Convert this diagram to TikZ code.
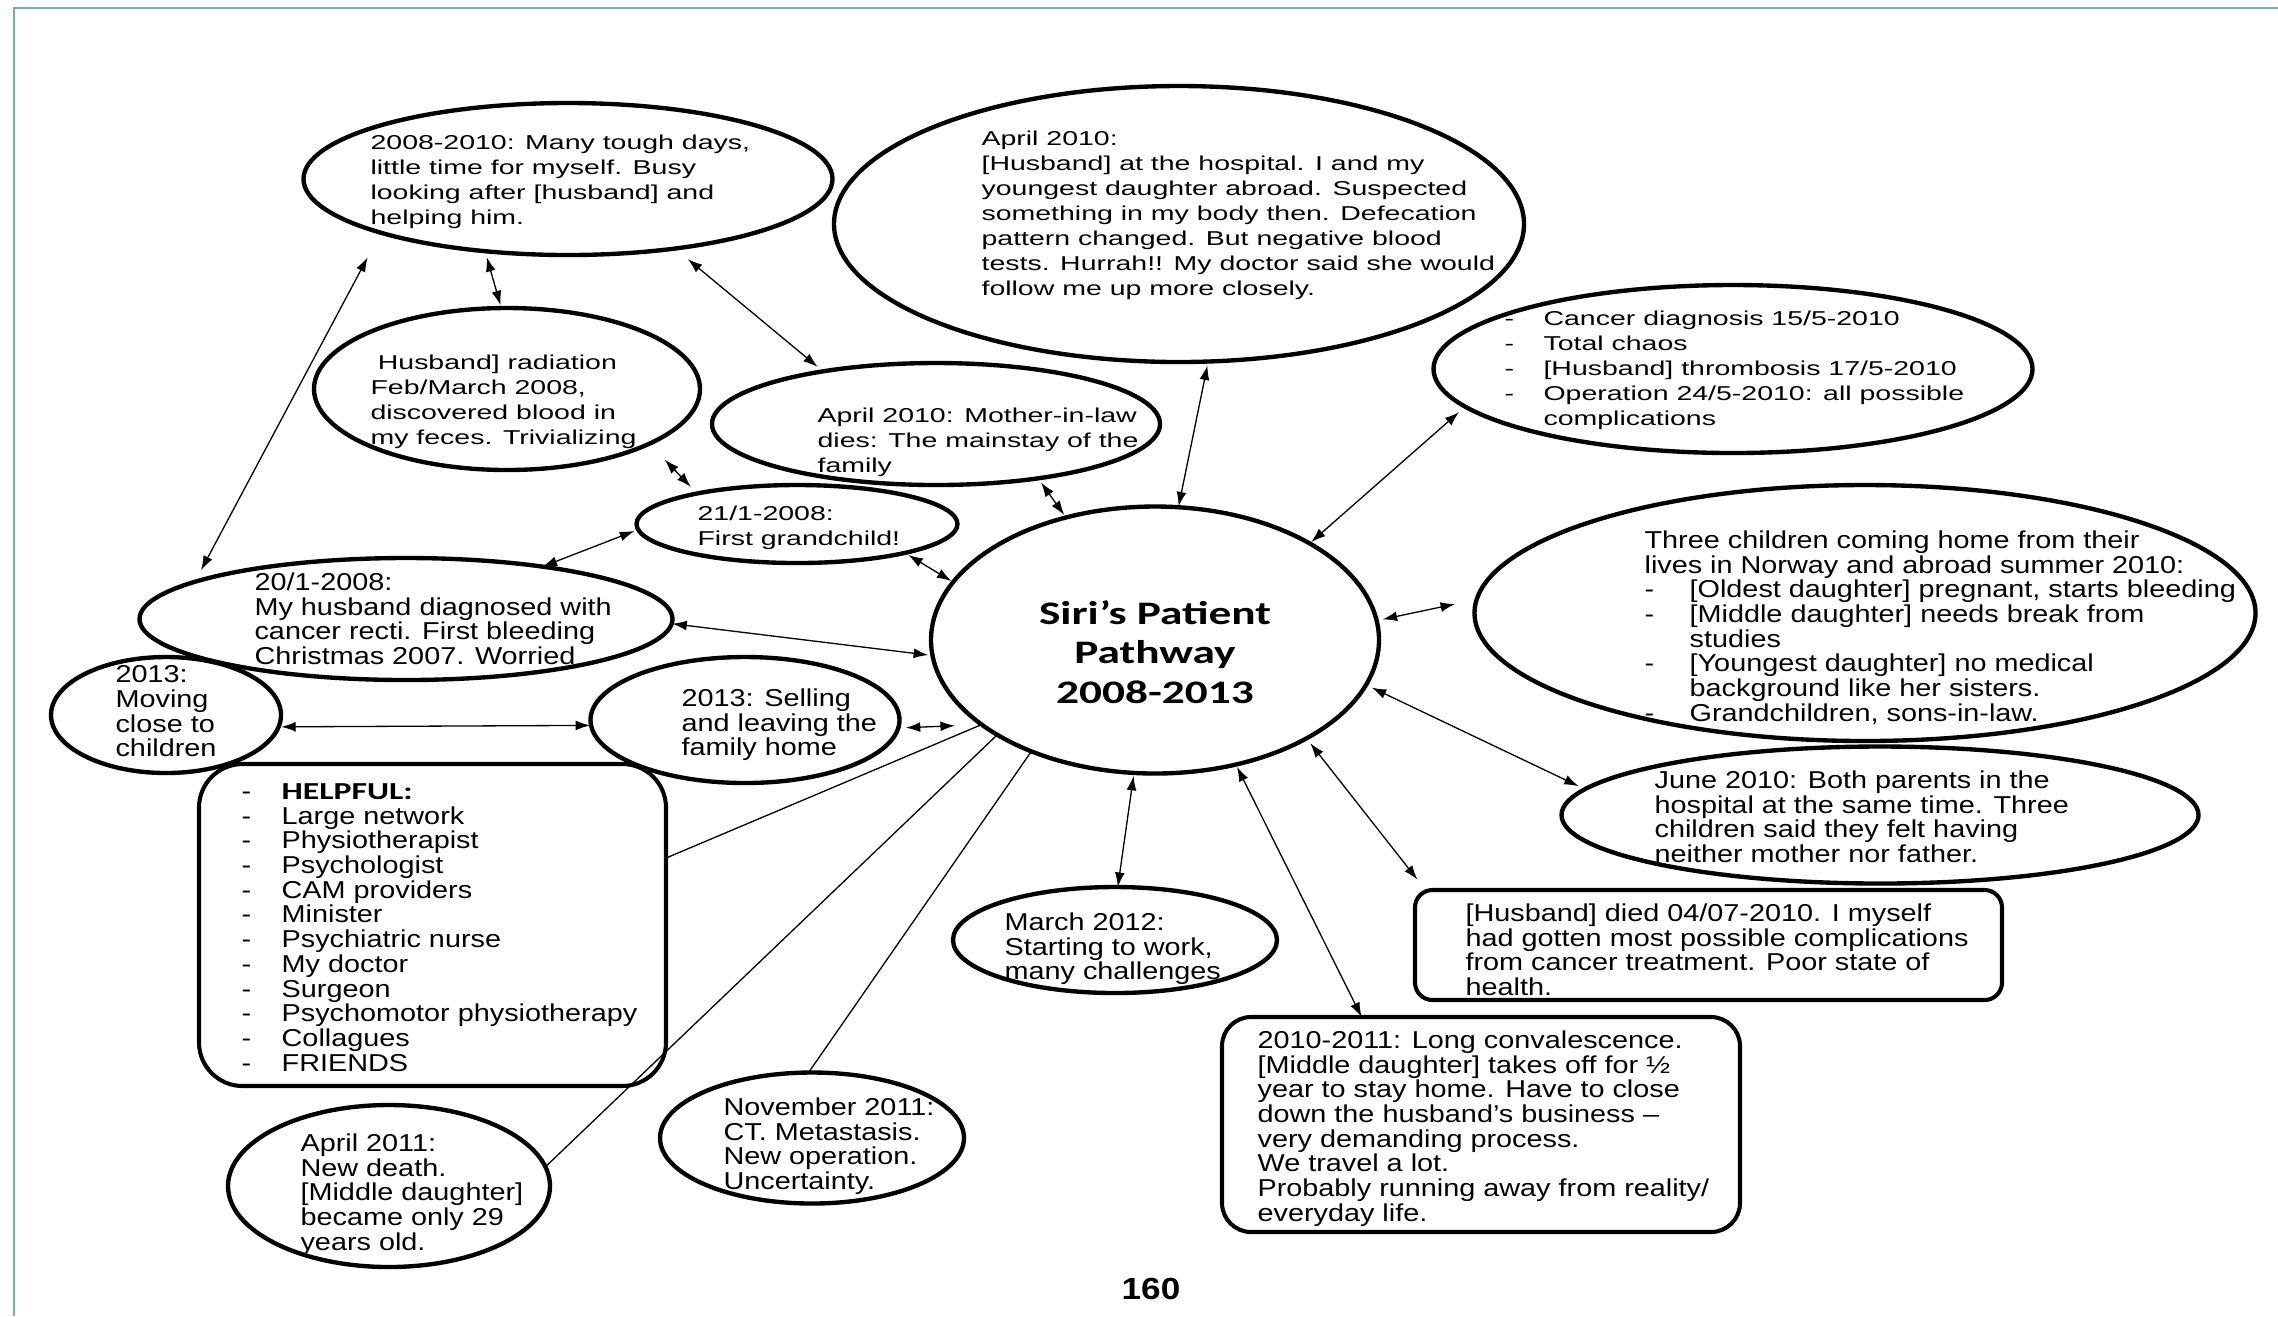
\documentclass[tikz,border=0pt]{standalone}
\usepackage{fontspec}
\setmainfont{Liberation Sans}
\newfontfamily\widefont[FakeStretch=1.42]{Liberation Sans}
\newfontfamily\narrowfont[FakeStretch=1.18]{Liberation Sans}
\newfontfamily\titlefont[FakeStretch=1.38]{Carlito}
\newfontfamily\pagefont[FakeStretch=1.15]{Liberation Sans}
\usetikzlibrary{shapes.geometric,arrows.meta}
\newcommand{\dsh}[1]{\makebox[#1][l]{-}}
\definecolor{framecol}{RGB}{120,175,175}
\begin{document}
\begin{tikzpicture}[x=0.344pt,y=-0.344pt,
  sz/.style 2 args={minimum width=#1*0.344pt,minimum height=#2*0.344pt},
  ell/.style={draw,ellipse,line width=1.5pt,inner sep=0pt,outer sep=0pt},
  rbox/.style={draw,rectangle,line width=1.4pt,inner sep=0pt,outer sep=0pt},
  wtext/.style={anchor=north west,inner sep=0pt,align=left,font=\widefont\fontsize{6.9pt}{8.6pt}\selectfont},
  ntext/.style={anchor=north west,inner sep=0pt,align=left,font=\narrowfont\fontsize{8.4pt}{8.5pt}\selectfont},
  arr/.style={{Latex[length=5pt,width=3.4pt]}-{Latex[length=5pt,width=3.4pt]},line width=0.45pt},
  ln/.style={line width=0.45pt}]
\useasboundingbox (0,0) rectangle (2278,1316);
\fill[white] (0,0) rectangle (2278,1316);
\draw[framecol,line width=1pt] (14,1316) -- (14,8) -- (2278,8);

% shapes
\node[ell,sz={529}{152}] (e1) at (568,179) {};
\node[ell,sz={386}{162}] (erad) at (507,389) {};
\node[ell,sz={690}{276}] (eapr) at (1179,224) {};
\node[ell,sz={448}{122}] (emil) at (936,424) {};
\node[ell,sz={321}{78}] (egrand) at (797,524) {};
\node[ell,sz={448}{267}] (main) at (1155,640) {};
\node[ell,sz={599}{168}] (ecancer) at (1733,369) {};
\node[ell,sz={781}{256}] (ethree) at (1865,613) {};
\node[ell,sz={637}{137}] (ejune) at (1880,815) {};
\node[rbox,rounded corners=6pt,sz={587}{110}] (hdied) at (1708.5,945) {};
\node[rbox,rounded corners=10pt,sz={518}{215}] (conv) at (1481,1124.5) {};
\node[ell,sz={324}{106}] (emarch) at (1115,940) {};
\node[ell,sz={533}{122}] (e2001) at (406,619) {};
\node[ell,sz={230}{116}] (emoving) at (166,715) {};
\node[ell,sz={309}{126}] (esell) at (745,720) {};
\node[rbox,rounded corners=15pt,sz={467}{322}] (helpful) at (432.5,925) {};
\node[ell,sz={322}{162}] (eapr11) at (389,1186) {};
\node[ell,sz={304}{131}] (enov) at (812,1138) {};

% texts
\node[wtext] (te1) at (370,134) {2008-2010: Many tough days,\\little time for myself. Busy\\looking after [husband] and\\helping him.};
\node[wtext] (terad) at (370,354) {\hspace*{2.5pt}Husband] radiation\\Feb/March 2008,\\discovered blood in\\my feces. Trivializing};
\node[wtext] (teapr) at (981,130) {April 2010:\\{}[Husband] at the hospital. I and my\\youngest daughter abroad. Suspected\\something in my body then. Defecation\\pattern changed. But negative blood\\tests. Hurrah!! My doctor said she would\\follow me up more closely.};
\node[wtext] (temil) at (817,407) {April 2010: Mother-in-law\\dies: The mainstay of the\\family};
\node[wtext] (tegrand) at (697,505) {21/1-2008:\\First grandchild!};
\node[wtext] (tecancer) at (1504,310) {\dsh{13.4pt}Cancer diagnosis 15/5-2010\\\dsh{13.4pt}Total chaos\\\dsh{13.4pt}[Husband] thrombosis 17/5-2010\\\dsh{13.4pt}Operation 24/5-2010: all possible\\\hspace*{13.4pt}complications};
\node[align=center,inner sep=0pt,font=\titlefont\bfseries\fontsize{11.3pt}{13.6pt}\selectfont] (title) at (1155,652) {Siri’s Patient\\Pathway\\2008-2013};
\node[ntext] (tethree) at (1644,530) {Three children coming home from their\\lives in Norway and abroad summer 2010:\\\dsh{15.5pt}[Oldest daughter] pregnant, starts bleeding\\\dsh{15.5pt}[Middle daughter] needs break from\\\hspace*{15.5pt}studies\\\dsh{15.5pt}[Youngest daughter] no medical\\\hspace*{15.5pt}background like her sisters.\\\dsh{15.5pt}Grandchildren, sons-in-law.};
\node[ntext] (tjune) at (1654,770) {June 2010: Both parents in the\\hospital at the same time. Three\\children said they felt having\\neither mother nor father.};
\node[ntext] (thdied) at (1465,903) {[Husband] died 04/07-2010. I myself\\had gotten most possible complications\\from cancer treatment. Poor state of\\health.};
\node[ntext] (tconv) at (1257,1030) {2010-2011: Long convalescence.\\{}[Middle daughter] takes off for ½\\year to stay home. Have to close\\down the husband’s business –\\very demanding process.\\We travel a lot.\\Probably running away from reality/\\everyday life.};
\node[ntext] (tmarch) at (1004,912) {March 2012:\\Starting to work,\\many challenges};
\node[ntext] (te2001) at (254,572) {20/1-2008:\\My husband diagnosed with\\cancer recti. First bleeding\\Christmas 2007. Worried};
\node[ntext] (tmoving) at (115,665) {2013:\\Moving\\close to\\children};
\node[ntext] (tsell) at (681,688) {2013: Selling\\and leaving the\\family home};
\node[ntext] (thelp) at (241,783) {\dsh{13.8pt}{\titlefont\bfseries HELPFUL:}\\\dsh{13.8pt}Large network\\\dsh{13.8pt}Physiotherapist\\\dsh{13.8pt}Psychologist\\\dsh{13.8pt}CAM providers\\\dsh{13.8pt}Minister\\\dsh{13.8pt}Psychiatric nurse\\\dsh{13.8pt}My doctor\\\dsh{13.8pt}Surgeon\\\dsh{13.8pt}Psychomotor physiotherapy\\\dsh{13.8pt}Collagues\\\dsh{13.8pt}FRIENDS};
\node[ntext] (tapr11) at (300,1133) {April 2011:\\New death.\\{}[Middle daughter]\\became only 29\\years old.};
\node[ntext] (tnov) at (723,1097) {November 2011:\\CT. Metastasis.\\New operation.\\Uncertainty.};
\node[inner sep=0pt,font=\pagefont\bfseries\fontsize{10.5pt}{12pt}\selectfont] (pg) at (1151,1289) {160};

% connectors
\draw[arr,shorten <=2.1pt,shorten >=1pt] (e1.221) -- (erad.94);
\draw[arr,shorten <=9.6pt,shorten >=4.5pt] (e1.196) -- (e2001.170);
\draw[arr,shorten <=5.7pt,shorten >=2.4pt] (e1.327) -- (emil.155);
\draw[arr,shorten <=7.6pt,shorten >=3.1pt] (erad.339) -- (egrand.163);
\draw[arr,shorten >=1.4pt] (e2001.21) -- (egrand.182);
\draw[arr,shorten <=1.4pt,shorten >=0.7pt] (egrand.345) -- (main.164);
\draw[arr,shorten <=1.7pt,shorten >=1pt] (emil.332) -- (main.126);
\draw[arr,shorten <=1.4pt,shorten >=0.3pt] (eapr.282) -- (main.80);
\draw[arr,shorten <=2.8pt,shorten >=0.7pt] (ecancer.188) -- (main.32);
\draw[arr,shorten <=2.1pt,shorten >=7.6pt] (main.5) -- (ethree.178);
\draw[arr,shorten <=2.2pt,shorten >=2.4pt] (main.348) -- (ejune.175);
\draw[arr,shorten <=2.1pt,shorten >=4.5pt] (main.327) -- (hdied.169);
\draw[arr,shorten <=0.9pt] (main.303) -- (conv.138);
\draw[arr,shorten <=1pt] (main.261) -- (emarch.87);
\draw[arr,shorten <=0.2pt,shorten >=1.5pt] (e2001.359) -- (main.184);
\draw[arr,shorten <=0.9pt,shorten >=0.3pt] (emoving.354) -- (esell.182);
\draw[arr,shorten <=2.6pt,shorten >=9.2pt] (esell.357) -- (main.206.5);
\draw[ln] (helpful.16) -- (main.206);
\draw[ln] (eapr11.7) -- (main.211);
\draw[ln] (enov.93) -- (main.222);
\end{tikzpicture}
\end{document}
